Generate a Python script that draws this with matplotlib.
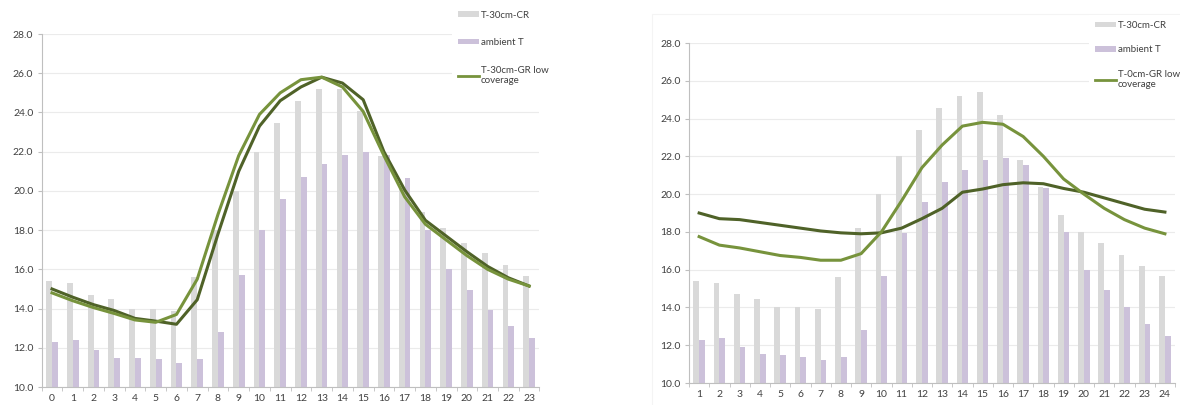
import matplotlib.pyplot as plt
import numpy as np
from matplotlib.lines import Line2D
from matplotlib.patches import Patch, Rectangle

plt.rcParams['font.family'] = ['Lato', 'DejaVu Sans']

# left chart: hours 0..23
hours_left = list(range(0, 24))
cr_left = [15.4, 15.3, 14.7, 14.5, 14.0, 14.0, 13.9, 15.6, 18.0, 20.0, 22.0, 23.45,
           24.6, 25.2, 25.2, 24.1, 21.8, 20.2, 18.9, 18.1, 17.35, 16.85, 16.2, 15.65]
amb_left = [12.3, 12.4, 11.9, 11.5, 11.5, 11.45, 11.25, 11.45, 12.8, 15.7, 18.0, 19.6,
            20.7, 21.35, 21.85, 22.0, 21.85, 20.65, 18.0, 16.0, 14.95, 13.95, 13.1, 12.5]
gr_light_left = [14.8, 14.4, 14.05, 13.75, 13.42, 13.3, 13.7, 15.5, 18.8, 21.8, 23.9, 25.0,
                 25.67, 25.8, 25.3, 24.05, 21.8, 19.7, 18.3, 17.5, 16.7, 16.0, 15.5, 15.15]
gr_dark_left = [15.0, 14.58, 14.2, 13.9, 13.5, 13.36, 13.2, 14.45, 17.8, 21.0, 23.3, 24.6,
                25.3, 25.8, 25.5, 24.65, 22.0, 20.05, 18.5, 17.7, 16.9, 16.15, 15.57, 15.15]

# right chart: hours 1..24
hours_right = list(range(1, 25))
cr_right = [15.4, 15.3, 14.7, 14.45, 14.0, 14.0, 13.9, 15.6, 18.2, 20.0, 22.0, 23.4,
            24.55, 25.2, 25.4, 24.2, 21.8, 20.4, 18.9, 18.0, 17.4, 16.8, 16.2, 15.65]
amb_right = [12.3, 12.4, 11.9, 11.55, 11.5, 11.4, 11.2, 11.4, 12.8, 15.65, 17.95, 19.6,
             20.65, 21.3, 21.8, 21.9, 21.55, 20.3, 18.0, 16.0, 14.9, 14.0, 13.1, 12.5]
gr_light_right = [17.75, 17.3, 17.15, 16.95, 16.75, 16.65, 16.5, 16.5, 16.85, 18.0, 19.65, 21.4,
                  22.6, 23.6, 23.8, 23.7, 23.05, 22.0, 20.8, 20.0, 19.25, 18.65, 18.2, 17.9]
gr_dark_right = [19.0, 18.7, 18.65, 18.5, 18.35, 18.2, 18.05, 17.95, 17.9, 17.95, 18.2, 18.7,
                 19.25, 20.1, 20.27, 20.5, 20.6, 20.55, 20.3, 20.1, 19.8, 19.5, 19.2, 19.05]

gray = '#d9d9d9'
lav = '#ccc1da'
green_light = '#77933c'
green_dark = '#4f6228'
txt = '#404040'


def draw(ax, hours, cr, amb, light, dark):
    x = np.arange(len(hours))
    w = 0.28
    ax.bar(x - w / 2, cr, w, color=gray, zorder=2)
    ax.bar(x + w / 2, amb, w, color=lav, zorder=2)
    ax.plot(x, dark, color=green_dark, lw=2.2, zorder=3)
    ax.plot(x, light, color=green_light, lw=2.2, zorder=3)
    ax.set_xlim(-0.5, len(hours) - 0.5)
    ax.set_ylim(10, 28)
    ax.set_yticks(np.arange(10, 28.1, 2))
    ax.set_yticklabels(['%.1f' % v for v in np.arange(10, 28.1, 2)])
    ax.set_xticks(x)
    ax.set_xticklabels([str(h) for h in hours])
    ax.set_xticks(np.arange(-0.5, len(hours), 1), minor=True)
    ax.tick_params(axis='x', which='major', length=0, labelsize=7.5, colors=txt, pad=5)
    ax.tick_params(axis='x', which='minor', length=3, color='#bfbfbf')
    ax.tick_params(axis='y', length=3, color='#bfbfbf', labelsize=7.5, colors=txt, pad=3)
    ax.grid(axis='y', color='#ebebeb', lw=0.8, zorder=0)
    for s in ['top', 'right']:
        ax.spines[s].set_visible(False)
    for s in ['left', 'bottom']:
        ax.spines[s].set_color('#bfbfbf')
        ax.spines[s].set_linewidth(0.8)


fig = plt.figure(figsize=(11.8, 4.05), dpi=100)

# faint border of the second chart area
fig.patches.append(Rectangle((652 / 1180, -0.01), 0.46, 0.975, transform=fig.transFigure,
                             fill=False, edgecolor='#f4f4f4', lw=0.8))

ax1 = fig.add_axes([0.0353, 0.0444, 0.4219, 0.8716])
draw(ax1, hours_left, cr_left, amb_left, gr_light_left, gr_dark_left)

ax2 = fig.add_axes([0.5839, 0.0543, 0.4119, 0.8395])
draw(ax2, hours_right, cr_right, amb_right, gr_light_right, gr_dark_right)


def legend(label3, x0, y0, spacing):
    handles = [Patch(facecolor=gray, edgecolor='none'),
               Patch(facecolor=lav, edgecolor='none'),
               Line2D([], [], color=green_light, lw=2)]
    leg = fig.legend(handles, ['T-30cm-CR', 'ambient T', label3],
                     loc='upper left', bbox_to_anchor=(x0, y0), bbox_transform=fig.transFigure,
                     fontsize=7, frameon=True, facecolor='white', edgecolor='none',
                     framealpha=1, fancybox=False, handlelength=2.2, handleheight=0.5,
                     handletextpad=0.2, labelspacing=spacing, borderpad=0.6, labelcolor=txt)
    return leg


legend('T-30cm-GR low\ncoverage', 447 / 1180, 1.0, 1.9)
legend('T-0cm-GR low\ncoverage', 1084 / 1180, 0.975, 1.6)

plt.savefig('out.png', dpi=100)
